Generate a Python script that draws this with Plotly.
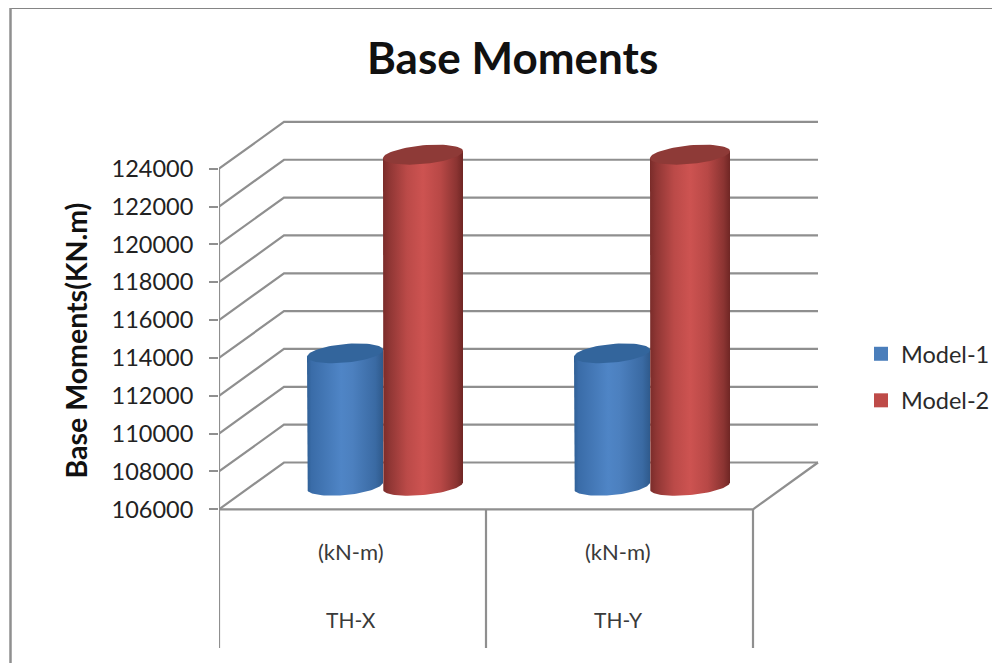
import numpy as np
import plotly.graph_objects as go

title = "Base Moments"
y_title = "Base Moments(KN.m)"
groups = ["TH-X", "TH-Y"]
units = ["(kN-m)", "(kN-m)"]
series = ["Model-1", "Model-2"]
model_1 = [113000, 113000]
model_2 = [123500, 123500]
tick_vals = [106000, 108000, 110000, 112000, 114000, 116000, 118000, 120000, 122000, 124000]

W, H = 1000, 663
PAGE = 8  # the page's own margin
L, R, T, B = 219, 830, 100, 655
PX_Y = 340.6 / 18000
PX_X = 267.0
Y0_PX = 509.3
def px_to_val(p): return 106000 + (Y0_PX - p) / PX_Y
def val_d(p): return p / PX_Y
def cat_d(p): return p / PX_X
DX, DY = cat_d(65), val_d(46.8)
CYL_D = val_d(23.5)
GRID = "#8f8f8f"
fig = go.Figure()

def line(xs, ys, width=2.2, color=GRID):
    fig.add_trace(go.Scatter(x=xs, y=ys, mode="lines", line=dict(color=color, width=width),
                             cliponaxis=False, showlegend=False, hoverinfo="skip"))

for v in tick_vals:
    line([0, DX, 2 + DX], [v, v + DY, v + DY])
line([0, 0], [106000, 124000])
line([0, 2, 2 + DX], [106000, 106000, 106000 + DY])
bottom_val = px_to_val(648)
for i in range(3):
    line([i, i], [106000, bottom_val])

def cylinder(cx_px, r_px, value, stops, cap, name):
    base = 106000 + CYL_D
    top = value + CYL_D
    cx, r = cat_d(cx_px - L), cat_d(r_px)
    b, s = val_d(9.3), val_d(3.6) * r_px / 40
    t = np.linspace(0, 2 * np.pi, 73)
    t_low = np.linspace(np.pi, 0, 49)
    xs = np.concatenate([[cx - r], cx + r * np.cos(t_low), [cx + r, cx - r]])
    ys = np.concatenate([[top - s], base - b * np.sin(t_low) + s * np.cos(t_low), [top + s, top - s]])
    fig.add_trace(go.Scatter(x=xs, y=ys, mode="lines", fill="toself", line=dict(width=0),
                             fillgradient=dict(type="horizontal", colorscale=stops),
                             cliponaxis=False, showlegend=False, name=name, hoverinfo="skip"))
    fig.add_trace(go.Scatter(x=cx + r * np.cos(t), y=top - b * np.sin(t) + s * np.cos(t),
                             mode="lines", fill="toself", fillcolor=cap, line=dict(width=0),
                             cliponaxis=False, showlegend=False, hoverinfo="skip"))

blue = [[0, "#2f5f95"], [0.06, "#3a6ca8"], [0.45, "#4f85c6"], [0.6, "#4c80bf"], [0.9, "#3a6aa3"], [1, "#2f5a8c"]]
red = [[0, "#7a2c2a"], [0.08, "#8f3634"], [0.3, "#bb4a48"], [0.5, "#cd5351"], [0.72, "#b84846"], [0.92, "#8b3432"], [1, "#6f2624"]]
for i in range(2):
    cylinder(345 + i * 267, 38, model_1[i], blue, "#33659c", series[0])
    cylinder(423 + i * 267, 40, model_2[i], red, "#8e3a37", series[1])

for k, (nm, col) in enumerate(zip(series, ["#4a7ebb", "#be4b48"])):
    fig.add_trace(go.Scatter(x=[None], y=[None], mode="markers", name=nm, legendgroup=nm,
                             marker=dict(symbol="square", size=14, color=col)))

def xp(p): return (p - L) / (R - L)
def yp(p): return (B - p) / (B - T)

annots = []
for i in range(2):
    annots.append(dict(x=i + 0.495, y=px_to_val(551), text=units[i], showarrow=False, xref="x", yref="y",
                       xanchor="center", yanchor="middle", font=dict(size=22, color="#3a3a3a")))
    annots.append(dict(x=i + 0.495, y=px_to_val(619), text=groups[i], showarrow=False, xref="x", yref="y",
                       xanchor="center", yanchor="middle", font=dict(size=21, color="#3a3a3a")))
annots.append(dict(x=xp(75), y=yp(340.5), xref="paper", yref="paper", xanchor="center", yanchor="middle",
                   text=f"<b>{y_title}</b>", textangle=-90, showarrow=False,
                   font=dict(size=28.5, color="#111111")))
annots.append(dict(x=xp(512.5), y=yp(57), xref="paper", yref="paper", xanchor="center", yanchor="middle",
                   text=f"<b>{title}</b>", showarrow=False, font=dict(size=44, color="#111111")))

shapes = [
    dict(type="line", xref="paper", yref="paper", x0=xp(10), x1=xp(1000), y0=yp(8), y1=yp(8),
         line=dict(color="#858585", width=2), layer="below"),
    dict(type="line", xref="paper", yref="paper", x0=xp(10.5), x1=xp(10.5), y0=yp(8), y1=yp(663),
         line=dict(color="#8f8f8f", width=2.5), layer="below"),
]

fig.update_layout(
    width=W - PAGE, height=H - PAGE, autosize=False, template=None,
    paper_bgcolor="white", plot_bgcolor="white",
    margin=dict(l=L - PAGE, r=W - R, t=T - PAGE, b=H - B, pad=0, autoexpand=False),
    font=dict(family="Lato, Carlito, sans-serif", color="#222222"),
    showlegend=True,
    legend=dict(x=xp(861), xanchor="left", y=yp(332), yanchor="top", font=dict(size=23.5, color="#2a2a2a"),
                tracegroupgap=13, bgcolor="rgba(0,0,0,0)", itemclick=False, itemdoubleclick=False),
    annotations=annots, shapes=shapes,
    xaxis=dict(range=[0, (R - L) / PX_X], visible=False, fixedrange=True),
    yaxis=dict(range=[px_to_val(B), px_to_val(T)], tickmode="array", tickvals=tick_vals,
               ticktext=[str(v) for v in tick_vals], showgrid=False, zeroline=False, showline=False,
               ticks="outside", ticklen=9, tickwidth=2, tickcolor=GRID, ticklabelstandoff=11,
               tickfont=dict(size=23.5, color="#222222"), fixedrange=True, automargin=False),
)
fig.write_html("out.html")
